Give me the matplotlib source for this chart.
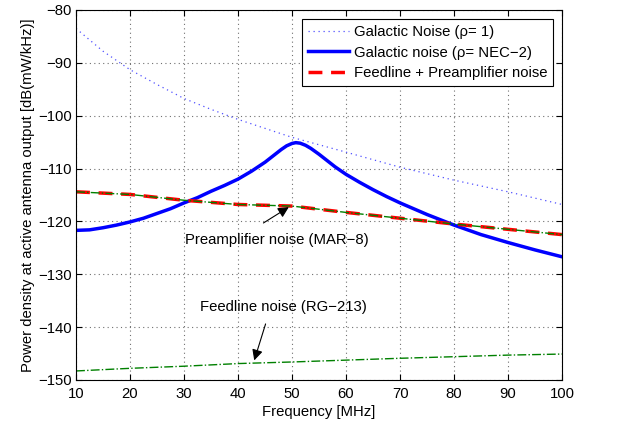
import numpy as np
import matplotlib.pyplot as plt

plt.rcParams['font.family'] = ['Liberation Sans', 'DejaVu Sans']
plt.rcParams['font.size'] = 10.7

# Galactic noise, rho = 1
f_gal = [10, 15, 20, 25, 30, 35, 40, 45, 50, 60, 70, 80, 90, 95, 100]
gal_rho1 = [-83.5, -87.8, -91.3, -94.1, -96.75, -98.8, -100.7, -102.4, -104.1,
            -106.9, -109.75, -112.2, -114.4, -115.6, -116.8]

# Galactic noise, rho from NEC-2
f_nec = [10, 12.5, 15, 17.5, 20, 22.5, 25, 27.5, 30, 32.5, 35, 37.5, 40, 42.5,
         45, 46.5, 48, 49, 50, 50.7, 51.5, 52.5, 53.5, 55, 56.5, 58, 60, 62.5,
         65, 67.5, 70, 72.5, 75, 77.5, 80, 85, 90, 95, 100]
gal_nec = [-121.7, -121.6, -121.2, -120.7, -120.1, -119.4, -118.5, -117.6,
           -116.5, -115.5, -114.3, -113.2, -112.0, -110.5, -108.8, -107.6,
           -106.4, -105.7, -105.25, -105.1, -105.2, -105.6, -106.2, -107.3,
           -108.5, -109.7, -111.1, -112.6, -114.0, -115.3, -116.5, -117.6,
           -118.7, -119.7, -120.7, -122.5, -124.0, -125.4, -126.7]

# Feedline + preamplifier, preamplifier alone, feedline alone
f_ln = [10, 20, 30, 40, 50, 55, 60, 70, 80, 90, 100]
total_noise = [-114.4, -114.9, -116.0, -116.8, -117.1, -117.7, -118.3, -119.4,
               -120.5, -121.5, -122.5]
preamp_noise = [-114.4, -114.9, -116.0, -116.8, -117.1, -117.7, -118.3, -119.4,
                -120.5, -121.5, -122.5]
f_feed = [10, 20, 30, 40, 50, 60, 70, 80, 90, 100]
feed_noise = [-148.3, -147.8, -147.4, -146.9, -146.6, -146.25, -145.9, -145.6,
              -145.3, -145.1]

fig = plt.figure(figsize=(6.2, 4.25), dpi=100)
ax = fig.add_axes([0.1226, 0.106, 0.784, 0.8705])

ax.plot(f_gal, gal_rho1, color='#5050ff', lw=0.9, linestyle=(0, (1, 3)),
        label='Galactic Noise (ρ= 1)')
ax.plot(f_nec, gal_nec, '-', color='#0000ff', lw=2.5, label='Galactic noise (ρ= NEC−2)')
ax.plot(f_ln, total_noise, '--', color='#ff0000', lw=2.5, dashes=(4, 2.5),
        label='Feedline + Preamplifier noise')
ax.plot(f_ln, preamp_noise, '-.', color='#008000', lw=1.0)
ax.plot(f_feed, feed_noise, '-.', color='#008000', lw=1.0)

arrow = dict(arrowstyle='-|>', color='k', lw=0.8, mutation_scale=16,
             shrinkA=0, shrinkB=0)
ax.text(47.2, -123.6, 'Preamplifier noise (MAR−8)', ha='center', va='center')
ax.annotate('', xy=(49.4, -117.3), xytext=(44.7, -120.3), arrowprops=arrow)
ax.text(48.4, -136.2, 'Feedline noise (RG−213)', ha='center', va='center')
ax.annotate('', xy=(43.0, -146.3), xytext=(45.1, -139.4), arrowprops=arrow)

ax.set_xlim(10, 100)
ax.set_ylim(-150, -80)
ax.set_xticks(np.arange(10, 101, 10))
ax.set_yticks(np.arange(-150, -79, 10))
ax.grid(True, linestyle=(0, (1, 3)), color='#707070', lw=0.8)
ax.tick_params(direction='in', top=True, right=True, length=4, width=0.8)
ax.tick_params(axis='x', pad=5)
ax.tick_params(axis='y', pad=3)
for s in ax.spines.values():
    s.set_linewidth(0.8)

ax.set_xlabel('Frequency [MHz]', labelpad=3)
ax.set_ylabel('Power density at active antenna output [dB(mW/kHz)]', labelpad=2)

leg = ax.legend(loc='upper right', fancybox=False, edgecolor='k', framealpha=1,
                handlelength=2.7, borderaxespad=0.6, labelspacing=0.45,
                handletextpad=0.35, borderpad=0.4)
leg.get_frame().set_linewidth(0.8)

fig.savefig('out.png', dpi=100)
